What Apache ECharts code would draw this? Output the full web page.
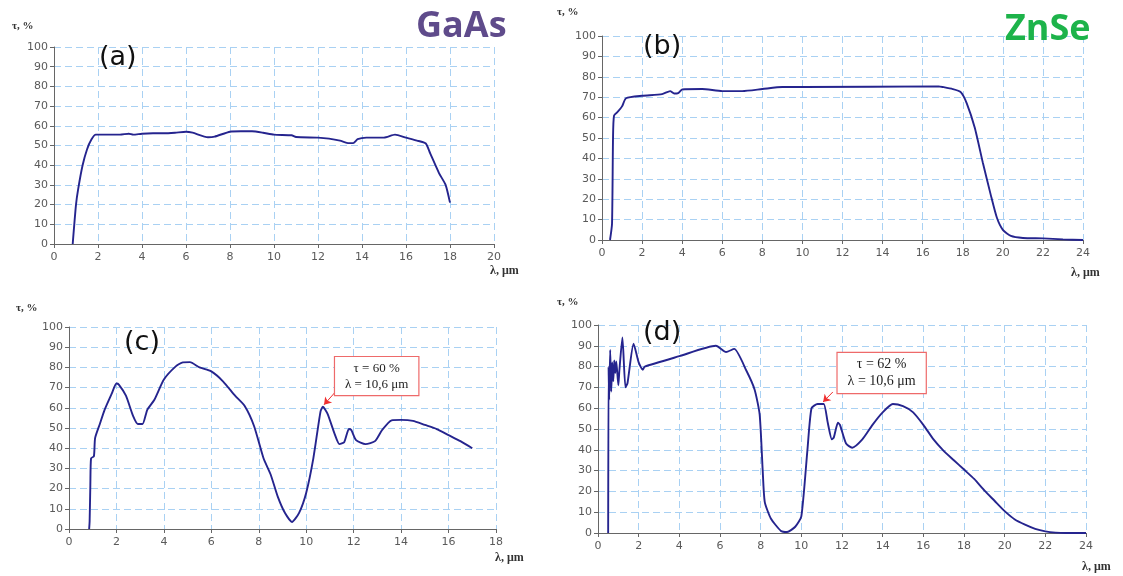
<!DOCTYPE html>
<html><head><meta charset="utf-8">
<script src="https://cdn.jsdelivr.net/npm/echarts@6/dist/echarts.min.js"></script>
<style>html,body{margin:0;padding:0;background:#fff}#c{width:1123px;height:576px}</style>
</head><body><div id="c"></div>
<script>
// (a) GaAs
const gaasX = [0.85,1.0,1.1,1.3,1.5,1.7,1.9,2.0,3.0,3.4,3.6,4.0,4.5,5.0,5.5,6.0,6.3,7.0,7.3,8.0,8.5,9.0,9.5,10.0,10.8,11.0,12.0,12.5,13.0,13.4,13.6,13.8,14.2,15.0,15.5,16.0,16.5,16.9,17.1,17.5,17.8,18.0];
const gaasY = [0,20,28,40,48,53,55.5,55.5,55.5,56,55.5,56,56.2,56.2,56.5,57,56.5,54.2,54.5,57,57.2,57.2,56.5,55.5,55.2,54.3,54,53.5,52.5,51.2,51.2,53.2,54,54,55.5,54,52.5,51,46,36,30,21];
// (b) ZnSe
const znseX = [0.4,0.5,0.55,0.6,0.8,1.0,1.2,2.0,3.0,3.4,3.6,3.8,4.0,5.0,6.0,7.0,8.0,9.0,10.0,16.8,17.0,17.5,17.9,18.2,18.6,19.0,19.4,19.7,20.0,20.4,21.0,22.0,23.0,24.0];
const znseY = [0,8,50,61,63,65.5,69.5,70.7,71.5,73,71.8,72,73.8,74,73,73,74,75,75,75.3,75,74,72.5,67,55,38,22,11,5,2,1,0.8,0.3,0];
// (c)
const cX = [0.85,0.87,0.9,0.93,1.05,1.1,1.3,1.5,1.8,2.0,2.1,2.4,2.7,2.9,3.1,3.3,3.6,4.0,4.5,4.8,5.1,5.5,6.0,6.5,7.0,7.4,7.8,8.2,8.5,8.8,9.1,9.4,9.7,10.0,10.3,10.6,10.7,10.9,11.2,11.4,11.6,11.8,11.9,12.1,12.5,12.9,13.2,13.6,14.0,14.5,15.0,15.5,16.0,16.5,17.0];
const cY = [0,4,22,35,36,45,52,59,67,72,71.5,66,56,52,52,59,64,74,80.5,82.5,82.6,80,78,73,66,61,51,35,27,16,8,3.5,8,18,35,58,60.5,57,47,42,43,49.5,49,44,42,43.5,49,53.8,54,53.5,51.5,49.5,46.5,43.5,40];
// (d)
const dX = [0.5,0.52,0.55,0.6,0.65,0.7,0.75,0.8,0.85,0.9,1.0,1.05,1.2,1.35,1.45,1.75,2.0,2.2,2.3,4.0,5.8,6.3,6.7,7.3,7.7,7.95,8.1,8.2,8.5,9.0,9.3,9.7,10.0,10.3,10.5,10.8,11.1,11.3,11.5,11.6,11.8,11.9,12.2,12.5,13.0,13.5,14.0,14.5,15.0,15.5,16.0,16.5,17.0,17.5,18.0,18.5,19.0,19.5,20.0,20.5,21.0,21.5,22.0,22.5,23.0,24.0];
const dY = [0,80,64,88,68,82,73,83,77,82.5,71,78,94,70,72,91,82,78.5,80,85,90,87,88.5,78,69,57,30,15,7,1,0.5,3,8,40,60,62,62,53,45,46,53,52,43,41,45,52,58,62,61,58,52,45,39.5,35,30.5,26,20.5,15.5,10.5,6.5,4,2,0.8,0.2,0,0];
// annotations (data coordinates)
const annoC = {text:['τ = 60 %','λ = 10,6 μm'], box:[12.97,75.7], from:[11.3,68.8], to:[10.75,61.5]};
const annoD = {text:['τ = 62 %','λ = 10,6 μm'], box:[13.95,76.9], from:[11.55,67.8], to:[11.07,63]};
const yTicks = {min:0,max:100,interval:10};
const xMax = [20,24,18,24];

const zip = (xs,ys)=>xs.map((x,i)=>[x,ys[i]]);
const lineColor = '#25248e';
const gridStyle = {show:true,lineStyle:{color:'#a9d1f3',type:[7,4],width:1}};
const axisLbl = {color:'#5a5a5a',fontSize:11,fontFamily:'DejaVu Sans'};
const grids = [
  {left:54,right:629,top:47,bottom:332},
  {left:602,right:40,top:36,bottom:336},
  {left:69,right:627,top:327,bottom:47},
  {left:598,right:37,top:325,bottom:43}
];
const xAxes = xMax.map((m,i)=>({type:'value',gridIndex:i,min:0,max:m,interval:2,
  axisLine:{lineStyle:{color:'#666'}},axisTick:{show:true,length:4,lineStyle:{color:'#666'}},
  axisLabel:Object.assign({margin:8},axisLbl),splitLine:gridStyle}));
const yAxes = xMax.map((m,i)=>({type:'value',gridIndex:i,min:yTicks.min,max:yTicks.max,interval:yTicks.interval,
  axisLine:{show:true,lineStyle:{color:'#666'}},axisTick:{show:true,length:4,lineStyle:{color:'#666'}},
  axisLabel:Object.assign({margin:6},axisLbl),splitLine:gridStyle}));

function anno(a, fs){
  return {
    markLine:{silent:true,symbol:['none','arrow'],symbolSize:[7,7],
      lineStyle:{color:'#f03030',width:1,type:'solid'},label:{show:false},
      data:[[{coord:a.from},{coord:a.to}]]},
    markPoint:{silent:true,symbol:'circle',symbolSize:0,
      data:[{coord:a.box}],
      label:{show:true,position:'inside',formatter:a.text.join('\n'),
        color:'#222',fontFamily:'Liberation Serif',fontSize:fs,lineHeight:fs+3,
        backgroundColor:'#fff',borderColor:'#ee6a6a',borderWidth:1.2,padding:[3,10,3,10]}}
  };
}
const mk = (i,data,extra)=>Object.assign({type:'line',xAxisIndex:i,yAxisIndex:i,data:data,
  showSymbol:false,symbol:'none',smooth:0.2,lineStyle:{color:lineColor,width:1.9},z:3},extra||{});

const series = [
  mk(0,zip(gaasX,gaasY)),
  mk(1,zip(znseX,znseY)),
  mk(2,zip(cX,cY),anno(annoC,13)),
  mk(3,zip(dX,dY),anno(annoD,14))
];
const txt = (x,y,t,s)=>({type:'text',left:x,top:y,z:100,style:Object.assign({text:t},s)});
const tau = {font:'bold 11px "Liberation Serif"',fill:'#333'};
const lam = {font:'bold 12px "Liberation Serif"',fill:'#333'};
const big = {font:'27px "DejaVu Sans"',fill:'#111'};
const graphic = [
  txt(12,21,'τ, %',tau), txt(557,7,'τ, %',tau), txt(16,303,'τ, %',tau), txt(557,297,'τ, %',tau),
  txt(490,265,'λ, μm',lam), txt(1071,267,'λ, μm',lam), txt(495,552,'λ, μm',lam), txt(1082,561,'λ, μm',lam),
  txt(99,44,'(a)',big), txt(643,33,'(b)',big), txt(124,329,'(c)',big), txt(643,319,'(d)',big),
  txt(416,9,'GaAs',{font:'bold 36px "Open Sans"',fill:'#5f4b8b'}),
  txt(1005,12,'ZnSe',{font:'bold 36px "Open Sans"',fill:'#1db34a'})
];
const chart = echarts.init(document.getElementById('c'));
chart.setOption({animation:false,backgroundColor:'#fff',grid:grids,xAxis:xAxes,yAxis:yAxes,series:series,graphic:graphic});
</script></body></html>
